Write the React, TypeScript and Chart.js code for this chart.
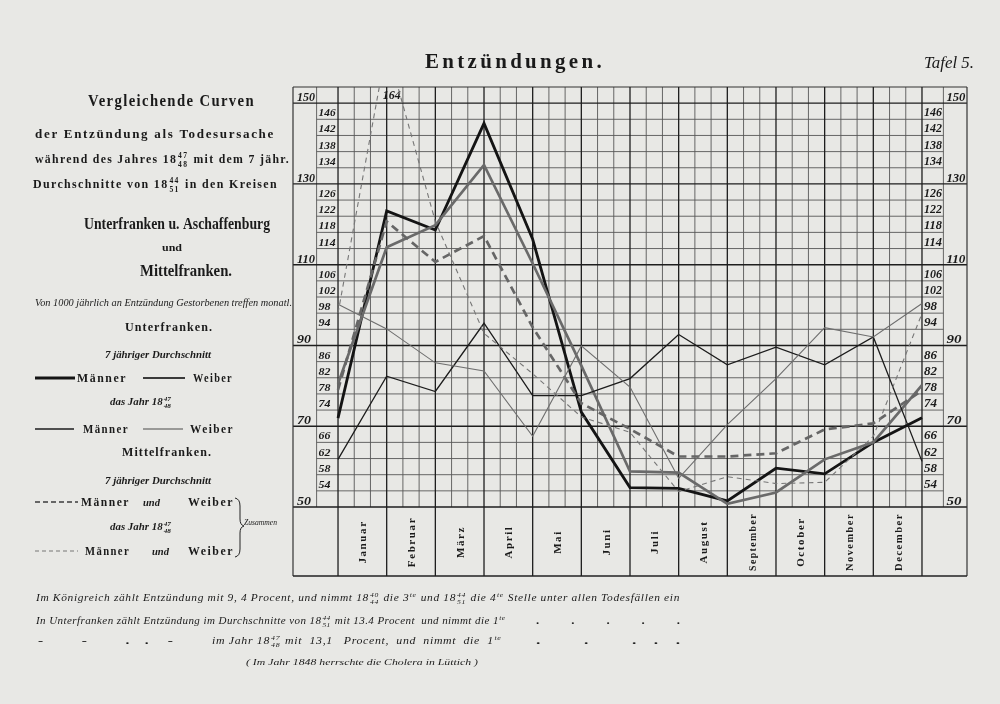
import React, { useEffect, useRef } from "react";
import { Chart, registerables } from "chart.js";
Chart.register(...registerables);

// ---- data ----
const months = ["Januar", "Februar", "März", "April", "Mai", "Juni", "Juli", "August", "September", "October", "November", "December"];
const pointSlots = [0, 1, 2, 3, 4, 5, 6, 7, 8, 9, 10, 11, 12];
const unterMaenner7 = [72, 123.3, 118.6, 145.0, 116.3, 73.5, 54.8, 54.6, 51.5, 59.6, 58.2, 66, 72.1];
const unterWeiber7 = [80.5, 114.3, 119.8, 134.7, 110.3, 85, 58.8, 58.5, 50.8, 53.6, 61.8, 66, 80.2];
const unterMaenner48 = [61.8, 82.4, 78.6, 95.5, 77.6, 77.6, 81.8, 92.7, 85.2, 89.6, 85.2, 92.1, 61.3];
const unterWeiber48 = [100.2, 94.1, 85.7, 83.7, 67.5, 89.9, 79.7, 57.1, 70.4, 81.8, 94.4, 92.1, 100.4];
const mittelZusammen7 = [79, 120.7, 110.7, 117.1, 94.5, 75.7, 69.3, 62.5, 62.5, 63.3, 69.2, 70.7, 78.8];
const mittelZusammen48 = [98, 164, 120.7, 93, 83, 72.3, 68.5, 53.8, 57.5, 55.8, 56.1, 67.5, 97.9];
const majorTicks = [150, 130, 110, 90, 70, 50];
const minorTicks = [146, 142, 138, 134, 126, 122, 118, 114, 106, 102, 98, 94, 86, 82, 78, 74, 66, 62, 58, 54];

const ST = {
  uM7: { color: "#141414", width: 2.8, dash: [] as number[] },
  uW7: { color: "#6a6a6a", width: 2.7, dash: [] as number[] },
  uM48: { color: "#1c1c1c", width: 1.3, dash: [] as number[] },
  uW48: { color: "#6e6e6e", width: 1.1, dash: [] as number[] },
  m7: { color: "#666666", width: 2.7, dash: [8, 5] },
  m48: { color: "#777777", width: 1.1, dash: [5, 4] },
};

const SERIF = "'Liberation Serif', 'DejaVu Serif', serif";

type Seg = string | { f: [string, string, string] } | { sup: string };

function segWidth(ctx: CanvasRenderingContext2D, s: Seg, size: number, style: string) {
  if (typeof s === "string") return ctx.measureText(s).width;
  const save = ctx.font;
  if ("f" in s) {
    const w = ctx.measureText(s.f[0]).width;
    ctx.font = `${style} ${Math.round(size * 0.62)}px ${SERIF}`;
    const fw = Math.max(ctx.measureText(s.f[1]).width, ctx.measureText(s.f[2]).width);
    ctx.font = save;
    return w + fw + 2;
  }
  ctx.font = `${style} ${Math.round(size * 0.62)}px ${SERIF}`;
  const w = ctx.measureText(s.sup).width;
  ctx.font = save;
  return w + 1;
}

function drawRich(ctx: CanvasRenderingContext2D, segs: Seg[], x: number, y: number, size: number, style: string, width?: number, spacing = 0) {
  ctx.save();
  ctx.font = `${style} ${size}px ${SERIF}`;
  (ctx as any).letterSpacing = `${spacing}px`;
  ctx.textAlign = "left";
  ctx.textBaseline = "alphabetic";
  let total = 0;
  for (const s of segs) total += segWidth(ctx, s, size, style);
  const sx = width ? width / total : 1;
  ctx.translate(x, y);
  ctx.scale(sx, 1);
  let cx = 0;
  for (const s of segs) {
    const w = segWidth(ctx, s, size, style);
    if (typeof s === "string") {
      ctx.fillText(s, cx, 0);
    } else if ("f" in s) {
      const ww = ctx.measureText(s.f[0]).width;
      ctx.fillText(s.f[0], cx, 0);
      const base = ctx.font;
      ctx.font = `${style} ${Math.round(size * 0.62)}px ${SERIF}`;
      ctx.fillText(s.f[1], cx + ww + 1, -size * 0.4);
      ctx.fillText(s.f[2], cx + ww + 1, size * 0.33);
      ctx.font = base;
    } else {
      const base = ctx.font;
      ctx.font = `${style} ${Math.round(size * 0.62)}px ${SERIF}`;
      ctx.fillText(s.sup, cx + 0.5, -size * 0.38);
      ctx.font = base;
    }
    cx += w;
  }
  ctx.restore();
}

function fitText(ctx: CanvasRenderingContext2D, text: string, x: number, y: number, width: number, font: string, spacing = 0) {
  ctx.save();
  ctx.font = font;
  (ctx as any).letterSpacing = `${spacing}px`;
  ctx.textBaseline = "alphabetic";
  ctx.textAlign = "left";
  const w = ctx.measureText(text).width;
  ctx.translate(x, y);
  ctx.scale(width / w, 1);
  ctx.fillText(text, 0, 0);
  ctx.restore();
}

function seg(ctx: CanvasRenderingContext2D, x1: number, y1: number, x2: number, y2: number, color: string, w: number, dash: number[] = []) {
  ctx.save();
  ctx.strokeStyle = color;
  ctx.lineWidth = w;
  ctx.setLineDash(dash);
  ctx.beginPath();
  ctx.moveTo(x1, y1);
  ctx.lineTo(x2, y2);
  ctx.stroke();
  ctx.restore();
}

const paperPlugin = {
  id: "paper",
  beforeDraw(chart: any) {
    const ctx = chart.ctx as CanvasRenderingContext2D;
    ctx.save();
    ctx.fillStyle = "#e8e8e5";
    ctx.fillRect(0, 0, chart.width, chart.height);
    ctx.restore();
  },
  beforeDatasetsDraw(chart: any) {
    const ctx = chart.ctx as CanvasRenderingContext2D;
    const xs = chart.scales.x, ys = chart.scales.y;
    const X = (v: number) => xs.getPixelForValue(v);
    const Y = (v: number) => ys.getPixelForValue(v);
    const { left, right, top, bottom } = chart.chartArea;
    const bandBottom = bottom + 69;
    const innerL = X(-0.44), innerR = X(12.44);
    const minorC = "#575757", majorC = "#1e1e1e";
    for (let k = 1; k < 36; k++) if (k % 3) seg(ctx, X(k / 3), top, X(k / 3), bottom, minorC, 0.9);
    seg(ctx, innerL, top, innerL, bottom, minorC, 0.9);
    seg(ctx, innerR, top, innerR, bottom, minorC, 0.9);
    for (const v of minorTicks) seg(ctx, innerL, Y(v), innerR, Y(v), minorC, 0.9);
    for (const v of majorTicks) seg(ctx, left, Y(v), right, Y(v), majorC, 1.4);
    seg(ctx, left, top, right, top, "#333", 1.2);
    for (const i of pointSlots) seg(ctx, X(i), top, X(i), bandBottom, majorC, 1.3);
    seg(ctx, left, top, left, bandBottom, "#333", 1.2);
    seg(ctx, right, top, right, bandBottom, "#333", 1.2);
    seg(ctx, left, bandBottom, right, bandBottom, "#222", 1.4);

    // axis labels
    ctx.save();
    ctx.fillStyle = "#1a1a1a";
    ctx.textBaseline = "alphabetic";
    for (const v of majorTicks) {
      fitText(ctx, String(v), left + 4, Y(v) - 2, v >= 100 ? 18 : 14, `italic bold 13px ${SERIF}`);
      fitText(ctx, String(v), innerR + 3, Y(v) - 2, v >= 100 ? 19 : 15, `italic bold 13px ${SERIF}`);
    }
    for (const v of minorTicks) {
      fitText(ctx, String(v), innerL + 2, Y(v) - 3, v >= 100 ? 17 : 12, `italic bold 11px ${SERIF}`);
      fitText(ctx, String(v), X(12) + 2, Y(v) - 3, v >= 100 ? 18 : 13, `italic bold 11.5px ${SERIF}`);
    }
    // month labels
    for (let i = 0; i < months.length; i++) {
      const cx = (X(i) + X(i + 1)) / 2;
      ctx.save();
      ctx.translate(cx + 4, bottom + 35);
      ctx.rotate(-Math.PI / 2);
      ctx.font = `bold 11px ${SERIF}`;
      (ctx as any).letterSpacing = "1.6px";
      ctx.textAlign = "center";
      const w = ctx.measureText(months[i]).width;
      if (w > 58) ctx.scale(58 / w, 1);
      ctx.fillText(months[i], 0, 0);
      ctx.restore();
    }
    // peak label (value above the top of the scale)
    const peakIdx = mittelZusammen48.indexOf(Math.max(...mittelZusammen48));
    fitText(ctx, String(mittelZusammen48[peakIdx]), X(peakIdx) - 4, Y(150) - 4, 18, `italic bold 12px ${SERIF}`);
    ctx.restore();
  },
  afterDraw(chart: any) {
    const ctx = chart.ctx as CanvasRenderingContext2D;
    ctx.save();
    ctx.fillStyle = "#1a1a1a";
    // title
    fitText(ctx, "Entzündungen.", 425, 68, 180, `bold 22px ${SERIF}`, 3.5);
    fitText(ctx, "Tafel 5.", 924, 68, 50, `italic 17px ${SERIF}`);
    // left panel
    fitText(ctx, "Vergleichende Curven", 88, 106, 167, `bold 16px ${SERIF}`, 1.5);
    fitText(ctx, "der Entzündung als Todesursache", 35, 138, 240, `bold 12.5px ${SERIF}`, 1.6);
    drawRich(ctx, ["während des Jahres ", { f: ["18", "47", "48"] }, " mit dem 7 jähr."], 35, 163, 12.5, "bold", 255, 1.4);
    drawRich(ctx, ["Durchschnitte von ", { f: ["18", "44", "51"] }, " in den Kreisen"], 33, 188, 12.5, "bold", 245, 1.4);
    fitText(ctx, "Unterfranken u. Aschaffenburg", 84, 229, 186, `bold 16px ${SERIF}`);
    fitText(ctx, "und", 162, 251, 20, `bold 10px ${SERIF}`);
    fitText(ctx, "Mittelfranken.", 140, 276, 92, `bold 16px ${SERIF}`);
    fitText(ctx, "Von 1000 jährlich an Entzündung Gestorbenen treffen monatl.", 35, 306, 257, `italic 9.5px ${SERIF}`);
    fitText(ctx, "Unterfranken.", 125, 331, 88, `bold 13.5px ${SERIF}`, 1.2);
    fitText(ctx, "7 jähriger Durchschnitt", 105, 358, 106, `italic bold 10.5px ${SERIF}`);
    // legend rows
    const leg = (s: { color: string; width: number; dash: number[] }, x1: number, x2: number, y: number) => seg(ctx, x1, y, x2, y, s.color, s.width, s.dash);
    leg(ST.uM7, 35, 75, 378);
    fitText(ctx, "Männer", 77, 382, 50, `bold 11.5px ${SERIF}`, 1.5);
    leg({ ...ST.uW7, color: "#3a3a3a", width: 1.8 }, 143, 185, 378);
    fitText(ctx, "Weiber", 193, 382, 40, `bold 11.5px ${SERIF}`, 1.5);
    drawRich(ctx, ["das Jahr ", { f: ["18", "47", "48"] }], 110, 405, 10.5, "italic bold", 62);
    leg({ ...ST.uM48, width: 1.5 }, 35, 74, 429);
    fitText(ctx, "Männer", 83, 433, 46, `bold 11.5px ${SERIF}`, 1.5);
    leg({ ...ST.uW48, color: "#4a4a4a" }, 143, 183, 429);
    fitText(ctx, "Weiber", 190, 433, 44, `bold 11.5px ${SERIF}`, 1.5);
    fitText(ctx, "Mittelfranken.", 122, 456, 90, `bold 13.5px ${SERIF}`, 1.2);
    fitText(ctx, "7 jähriger Durchschnitt", 105, 484, 106, `italic bold 10.5px ${SERIF}`);
    leg({ ...ST.m7, width: 2.2, dash: [5, 3] }, 35, 78, 502);
    fitText(ctx, "Männer", 81, 506, 49, `bold 11.5px ${SERIF}`, 1.5);
    fitText(ctx, "und", 143, 506, 17, `italic bold 10px ${SERIF}`);
    fitText(ctx, "Weiber", 188, 506, 46, `bold 11.5px ${SERIF}`, 1.5);
    drawRich(ctx, ["das Jahr ", { f: ["18", "47", "48"] }], 110, 530, 10.5, "italic bold", 62);
    leg({ ...ST.m48, dash: [4, 3] }, 35, 78, 551);
    fitText(ctx, "Männer", 85, 555, 45, `bold 11.5px ${SERIF}`, 1.5);
    fitText(ctx, "und", 152, 555, 17, `italic bold 10px ${SERIF}`);
    fitText(ctx, "Weiber", 188, 555, 46, `bold 11.5px ${SERIF}`, 1.5);
    // brace
    ctx.save();
    ctx.strokeStyle = "#222";
    ctx.lineWidth = 1;
    ctx.beginPath();
    ctx.moveTo(235, 498);
    ctx.quadraticCurveTo(240, 499, 240, 506);
    ctx.lineTo(240, 519);
    ctx.quadraticCurveTo(240, 525, 244, 526);
    ctx.quadraticCurveTo(240, 527, 240, 533);
    ctx.lineTo(240, 549);
    ctx.quadraticCurveTo(240, 556, 235, 557);
    ctx.stroke();
    ctx.restore();
    fitText(ctx, "Zusammen", 244, 525, 33, `italic 8px ${SERIF}`);
    // bottom notes
    drawRich(ctx, ["Im Königreich zählt Entzündung mit 9, 4 Procent, und nimmt ", { f: ["18", "40", "44"] }, " die 3", { sup: "te" }, " und ", { f: ["18", "44", "51"] }, " die 4", { sup: "te" }, " Stelle unter allen Todesfällen ein"], 36, 601, 10.5, "italic", 644, 0.6);
    drawRich(ctx, ["In Unterfranken zählt Entzündung im Durchschnitte von ", { f: ["18", "44", "51"] }, " mit 13.4 Procent  und nimmt die 1", { sup: "te" }], 36, 624, 10.5, "italic", 470, 0.4);
    fitText(ctx, ".          .          .          .          .", 536, 624, 144, `bold 10px ${SERIF}`);
    fitText(ctx, "-          -          .    .     -", 38, 644, 135, `bold 10px ${SERIF}`);
    drawRich(ctx, ["im Jahr ", { f: ["18", "47", "48"] }, " mit  13,1   Procent,  und  nimmt  die  1", { sup: "te" }], 212, 644, 10.5, "italic", 290, 0.6);
    fitText(ctx, ".          .          .    .    .", 536, 644, 144, `bold 10px ${SERIF}`);
    fitText(ctx, "( Im Jahr 1848 herrschte die Cholera in Lüttich )", 246, 665, 232, `italic 9px ${SERIF}`);
    ctx.restore();
  },
};

const mk = (label: string, arr: number[], s: { color: string; width: number; dash: number[] }) => ({
  label,
  data: arr.map((v, i) => ({ x: pointSlots[i], y: v })),
  borderColor: s.color,
  borderWidth: s.width,
  borderDash: s.dash,
  pointRadius: 0,
  tension: 0,
  fill: false,
});

export default function App() {
  const ref = useRef<HTMLCanvasElement | null>(null);
  useEffect(() => {
    if (!ref.current) return;
    const chart = new Chart(ref.current, {
      type: "line",
      data: {
        datasets: [
          mk("Mittelfranken 1847/48 Männer und Weiber", mittelZusammen48, ST.m48),
          mk("Unterfranken 1847/48 Weiber", unterWeiber48, ST.uW48),
          mk("Unterfranken 1847/48 Männer", unterMaenner48, ST.uM48),
          mk("Mittelfranken 7jähr. Männer und Weiber", mittelZusammen7, ST.m7),
          mk("Unterfranken 7jähr. Weiber", unterWeiber7, ST.uW7),
          mk("Unterfranken 7jähr. Männer", unterMaenner7, ST.uM7),
        ],
      },
      options: {
        animation: false,
        responsive: false,
        devicePixelRatio: 1,
        layout: { padding: { left: 293, right: 33, top: 87, bottom: 197 } },
        plugins: { legend: { display: false }, tooltip: { enabled: false }, title: { display: false } },
        scales: {
          x: { type: "linear", min: -0.925, max: 12.925, display: false },
          y: { type: "linear", min: 50, max: 154, display: false },
        },
      },
      plugins: [paperPlugin],
    });
    return () => chart.destroy();
  }, []);
  return (
    <div style={{ position: "fixed", left: 0, top: 0, width: 1000, height: 704 }}>
      <canvas ref={ref} width={1000} height={704} style={{ display: "block", width: 1000, height: 704 }} />
    </div>
  );
}
